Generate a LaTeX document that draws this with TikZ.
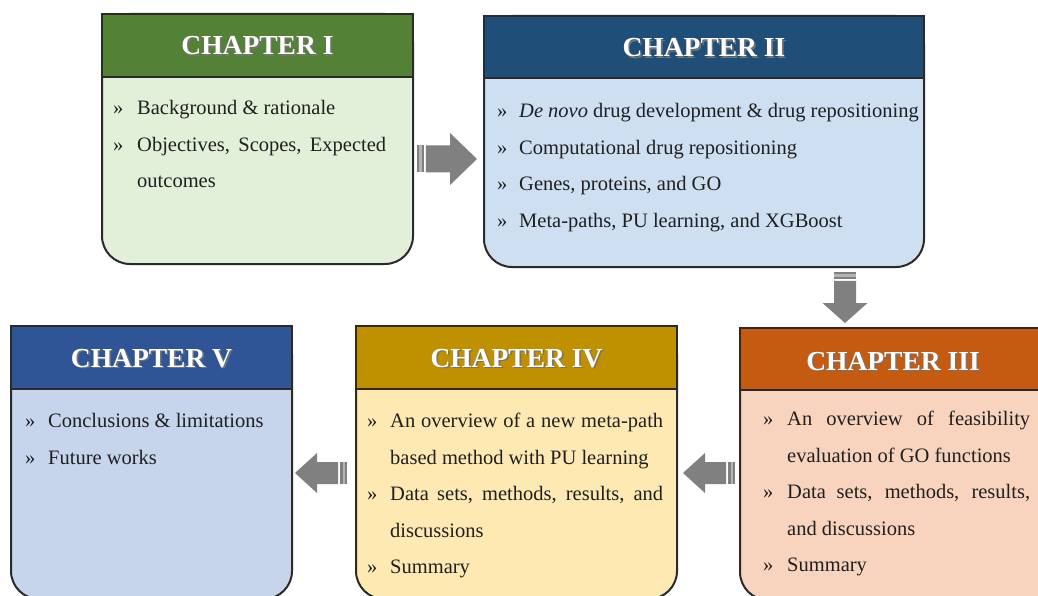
\documentclass[tikz,border=0pt]{standalone}
\usepackage{fontspec}
\setmainfont{Liberation Serif}
\usetikzlibrary{calc}

\definecolor{boxline}{HTML}{2A2A2A}
\definecolor{hdone}{HTML}{538135}
\definecolor{bdone}{HTML}{E2EFD9}
\definecolor{hdtwo}{HTML}{1F4E79}
\definecolor{bdtwo}{HTML}{CDDFF1}
\definecolor{hdthree}{HTML}{C55A11}
\definecolor{bdthree}{HTML}{F8D4BE}
\definecolor{hdfour}{HTML}{BF9000}
\definecolor{bdfour}{HTML}{FEE9B2}
\definecolor{hdfive}{HTML}{2F5597}
\definecolor{bdfive}{HTML}{C6D4EC}
\definecolor{arrowgray}{HTML}{808080}
\definecolor{arrowlight}{HTML}{B4B4B4}

% bullet + first line of an item
\newcommand\itemfirst[5]{%
  \node[bodytext] (#1b) at (#2,#4) {»};
  \node[bodytext] (#1) at (#3,#4) {#5};}
% continuation line of an item
\newcommand\itemcont[4]{%
  \node[bodytext] (#1) at (#2,#3) {#4};}
% chapter title with a soft shadow
\newcommand\chaptitle[4]{%
  \node[titletext, text=black!55] (#1s) at ($(#2,#3)+(1.6,1.6)$) {#4};
  \node[titletext, text=white] (#1) at (#2,#3) {#4};}
% striped block arrow: tail point, direction, length, head length, head half width, shaft half width
\newcommand\stripedarrow[6]{%
  \begin{scope}[shift={(#1)}, rotate=#2]
    \fill[arrowgray] (0,-#6) rectangle (2,#6);
    \fill[arrowlight] (2,-#6) rectangle (4.5,#6);
    \fill[arrowgray] (4.5,-#6) rectangle (6.8,#6);
    \fill[arrowgray] (8.8,-#6) -- ({#3-#4},-#6) -- ({#3-#4},-#5) -- (#3,0)
      -- ({#3-#4},#5) -- ({#3-#4},#6) -- (8.8,#6) -- cycle;
  \end{scope}}

\begin{document}
\begin{tikzpicture}[x=1pt,y=-1pt,
  chapbody/.style={draw=boxline, line width=2pt, rounded corners=28pt,
    anchor=north west, inner sep=0pt, outer sep=0pt},
  chaphead/.style={draw=boxline, line width=2pt, sharp corners,
    anchor=north west, inner sep=0pt, outer sep=0pt},
  bodytext/.style={anchor=base west, inner sep=0pt,
    font=\fontsize{20.5}{24}\selectfont, text=black!88},
  titletext/.style={anchor=base, inner sep=0pt,
    font=\fontsize{27.5}{32}\selectfont\bfseries}]
\useasboundingbox (0,0) rectangle (1038,596);
\clip (0,0) rectangle (1038,596);

% ---- Chapter I ----
\node[chapbody, fill=bdone, minimum width=311pt, minimum height=250pt] (c1) at (102,14) {};
\node[chaphead, fill=hdone, minimum width=311pt, minimum height=63pt] (h1) at (102,14) {};
\chaptitle{t1}{257.5}{55}{CHAPTER I}
\itemfirst{c1a}{113}{137}{115}{Background \& rationale}
\itemfirst{c1b}{113}{137}{152}{\makebox[249pt][s]{Objectives, Scopes, Expected}}
\itemcont{c1c}{137}{188}{outcomes}

% ---- Chapter II ----
\node[chapbody, fill=bdtwo, minimum width=440pt, minimum height=251pt] (c2) at (484,16) {};
\node[chaphead, fill=hdtwo, minimum width=440pt, minimum height=62pt] (h2) at (484,16) {};
\chaptitle{t2}{704}{57}{CHAPTER II}
\itemfirst{c2a}{497}{519}{118}{\textit{De novo} drug development \& drug repositioning}
\itemfirst{c2b}{497}{519}{155}{Computational drug repositioning}
\itemfirst{c2c}{497}{519}{191}{Genes, proteins, and GO}
\itemfirst{c2d}{497}{519}{227}{Meta-paths, PU learning, and XGBoost}

% ---- Chapter III (runs past the right and lower edges) ----
\node[chapbody, fill=bdthree, minimum width=340pt, minimum height=272pt] (c3) at (740,328) {};
\node[chaphead, fill=hdthree, minimum width=340pt, minimum height=62pt] (h3) at (740,328) {};
\chaptitle{t3}{893}{370}{CHAPTER III}
\itemfirst{c3a}{763}{787}{425}{\makebox[243pt][s]{An overview of feasibility}}
\itemcont{c3b}{787}{462}{evaluation of GO functions}
\itemfirst{c3c}{763}{787}{498}{\makebox[243pt][s]{Data sets, methods, results,}}
\itemcont{c3d}{787}{535}{and discussions}
\itemfirst{c3e}{763}{787}{571}{Summary}

% ---- Chapter IV ----
\node[chapbody, fill=bdfour, minimum width=321pt, minimum height=273pt] (c4) at (356,326) {};
\node[chaphead, fill=hdfour, minimum width=321pt, minimum height=63pt] (h4) at (356,326) {};
\chaptitle{t4}{516.5}{367}{CHAPTER IV}
\itemfirst{c4a}{367}{390}{427}{\makebox[273pt][s]{An overview of a new meta-path}}
\itemcont{c4b}{390}{464}{based method with PU learning}
\itemfirst{c4c}{367}{390}{500}{\makebox[273pt][s]{Data sets, methods, results, and}}
\itemcont{c4d}{390}{537}{discussions}
\itemfirst{c4e}{367}{390}{573}{Summary}

% ---- Chapter V ----
\node[chapbody, fill=bdfive, minimum width=281pt, minimum height=273pt] (c5) at (11,326) {};
\node[chaphead, fill=hdfive, minimum width=281pt, minimum height=63pt] (h5) at (11,326) {};
\chaptitle{t5}{151.5}{367}{CHAPTER V}
\itemfirst{c5a}{25}{48}{427}{Conclusions \& limitations}
\itemfirst{c5b}{25}{48}{464}{Future works}

% ---- flow between chapters ----
\coordinate (a12) at (417,159);
\coordinate (a23) at (845,272);
\coordinate (a34) at (735,473);
\coordinate (a45) at (347,473);
\stripedarrow{a12}{0}{60}{27}{26}{13.5}
\stripedarrow{a23}{-90}{51}{20}{22.5}{11}
\stripedarrow{a34}{180}{52}{22}{20}{11}
\stripedarrow{a45}{180}{52}{22}{20}{11}
\end{tikzpicture}
\end{document}
